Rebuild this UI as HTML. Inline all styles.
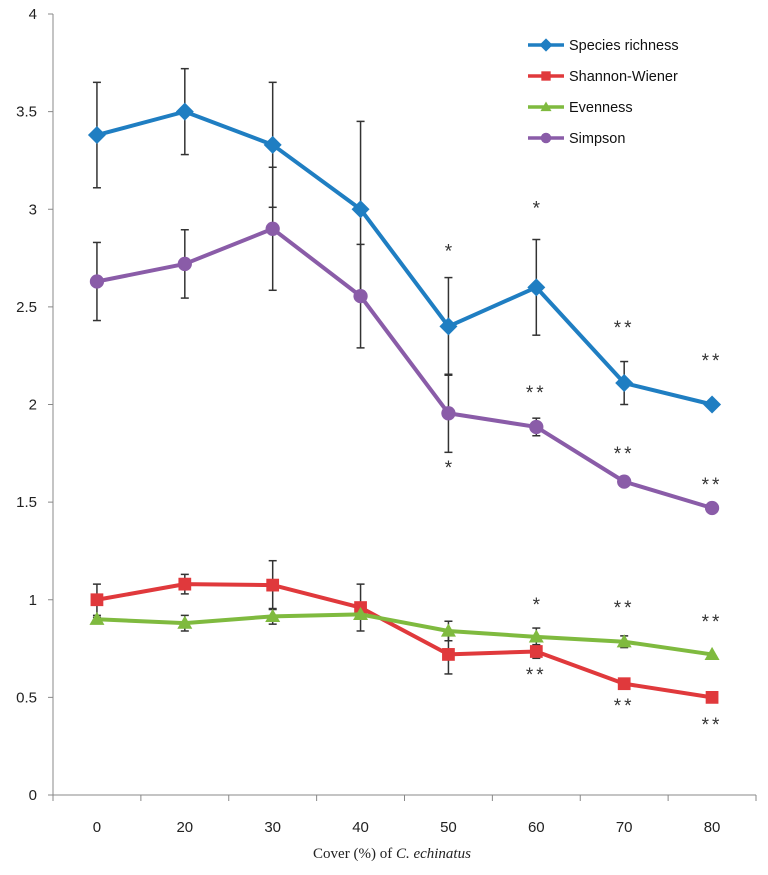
<!DOCTYPE html>
<html><head><meta charset="utf-8"><style>
body{margin:0;background:#fff;}
svg{display:block;font-family:"Liberation Sans",sans-serif;}
</style></head><body>
<svg id="chart" width="768" height="875" viewBox="0 0 768 875" xmlns="http://www.w3.org/2000/svg"></svg>
<script>
const categories=["0","20","30","40","50","60","70","80"];
const yTicks=[0,0.5,1,1.5,2,2.5,3,3.5,4];
const yTickLabels=["0","0.5","1","1.5","2","2.5","3","3.5","4"];
const richness=[3.38,3.50,3.33,3.00,2.40,2.60,2.11,2.00];
const richnessErr=[0.27,0.22,0.32,0.45,0.25,0.245,0.11,0];
const shannon=[1.00,1.08,1.075,0.96,0.72,0.735,0.57,0.50];
const shannonErr=[0.08,0.05,0.125,0.12,0.10,0.035,0.02,0];
const evenness=[0.90,0.88,0.915,0.925,0.84,0.81,0.785,0.72];
const evennessErr=[0.01,0.04,0.04,0.01,0.05,0.045,0.03,0];
const simpson=[2.63,2.72,2.90,2.555,1.955,1.885,1.605,1.47];
const simpsonErr=[0.20,0.175,0.315,0.265,0.20,0.045,0.02,0];
const seriesNames=["Species richness","Shannon-Wiener","Evenness","Simpson"];
// significance labels: [category index, y value, text]
const sigLabels=[[4,2.80,"*"],[4,1.69,"*"],[5,3.02,"*"],[5,2.074,"**"],[6,2.407,"**"],[7,2.238,"**"],[6,1.762,"**"],[7,1.603,"**"],[5,0.988,"*"],[5,0.63,"**"],[6,0.973,"**"],[7,0.901,"**"],[6,0.471,"**"],[7,0.374,"**"]];

const svg=document.getElementById('chart');
const NS="http://www.w3.org/2000/svg";
const X0=53,X1=756,Y0=795,Y4=14;
const band=(X1-X0)/categories.length;
const xS=i=>X0+band*(i+0.5);
const yS=v=>Y0-(v/4)*(Y0-Y4);
function mk(t,a,p){const e=document.createElementNS(NS,t);for(const k in a)e.setAttribute(k,a[k]);(p||svg).appendChild(e);return e;}

const axes=mk('g',{});


let e=mk('line',{x1:X0,y1:Y4,x2:X0,y2:Y0,stroke:'#888','stroke-width':1},axes);


e=mk('line',{x1:X0,y1:Y0,x2:X1,y2:Y0,stroke:'#888','stroke-width':1},axes);


yTicks.forEach((v,i)=>{
  mk('line',{x1:X0-5,y1:yS(v),x2:X0,y2:yS(v),stroke:'#888'},axes);
  const t=mk('text',{x:X0-16,y:yS(v)+5,'text-anchor':'end','font-size':15,fill:'#222'},axes);
  t.textContent=yTickLabels[i];
  
  
});
for(let i=0;i<=categories.length;i++){mk('line',{x1:X0+band*i,y1:Y0,x2:X0+band*i,y2:Y0+6,stroke:'#888'},axes);}
categories.forEach((c,i)=>{
  const t=mk('text',{x:xS(i),y:Y0+37,'text-anchor':'middle','font-size':15,fill:'#222'},axes);
  t.textContent=c;
  
  
});
const xt=mk('text',{x:392,y:858,'text-anchor':'middle','font-size':15,'font-family':'Liberation Serif, serif',fill:'#222'});
xt.innerHTML='Cover (%) of <tspan font-style="italic">C. echinatus</tspan>';



const series=[
 {d:richness,err:richnessErr,c:'#1f7ec2',m:'diamond',n:'species-richness'},
 {d:shannon,err:shannonErr,c:'#e0393c',m:'square',n:'shannon-wiener'},
 {d:evenness,err:evennessErr,c:'#7fba3f',m:'triangle',n:'evenness'},
 {d:simpson,err:simpsonErr,c:'#8a5ca8',m:'circle',n:'simpson'}];
function marker(g,type,x,y,c,s){
  if(type==='diamond')return mk('path',{d:`M${x} ${y-s*1.2}L${x+s*1.2} ${y}L${x} ${y+s*1.2}L${x-s*1.2} ${y}Z`,fill:c},g);
  if(type==='square')return mk('rect',{x:x-s*0.85,y:y-s*0.85,width:s*1.7,height:s*1.7,fill:c},g);
  if(type==='triangle')return mk('path',{d:`M${x} ${y-s}L${x+s} ${y+s*0.75}L${x-s} ${y+s*0.75}Z`,fill:c},g);
  return mk('circle',{cx:x,cy:y,r:s*0.95,fill:c},g);
}
series.forEach(s=>{
  const g=mk('g',{});
  
  
  s.d.forEach((v,i)=>{
    if(!s.err[i])return;
    const x=xS(i),a=yS(v+s.err[i]),b=yS(v-s.err[i]);
    mk('line',{x1:x,y1:a,x2:x,y2:b,stroke:'#333','stroke-width':1.5},g);
    mk('line',{x1:x-4,y1:a,x2:x+4,y2:a,stroke:'#333','stroke-width':1.5},g);
    mk('line',{x1:x-4,y1:b,x2:x+4,y2:b,stroke:'#333','stroke-width':1.5},g);
  });
});
series.forEach(s=>{
  const g=mk('g',{});
  
  
  const pl=mk('polyline',{points:s.d.map((v,i)=>xS(i)+','+yS(v)).join(' '),fill:'none',stroke:s.c,'stroke-width':4,'stroke-linejoin':'round'},g);
  
  
  s.d.forEach((v,i)=>{
    const m=marker(g,s.m,xS(i),yS(v),s.c,7.5);
    
    
  });
});
sigLabels.forEach(l=>{
  const t=mk('text',{x:xS(l[0]),y:yS(l[1])+9,'text-anchor':'middle','font-size':19,'letter-spacing':l[2].length>1?3:0,fill:'#333'});
  t.textContent=l[2];
  
  
});
const lg=mk('g',{});


series.forEach((s,i)=>{
  const y=45+i*31;
  const it=mk('g',{},lg);
  
  
  mk('line',{x1:528,y1:y,x2:564,y2:y,stroke:s.c,'stroke-width':3.5},it);
  marker(it,s.m,546,y,s.c,5.5);
  const t=mk('text',{x:569,y:y+5,'font-size':14.5,fill:'#111'},it);
  t.textContent=seriesNames[i];
});
</script>
</body></html>
